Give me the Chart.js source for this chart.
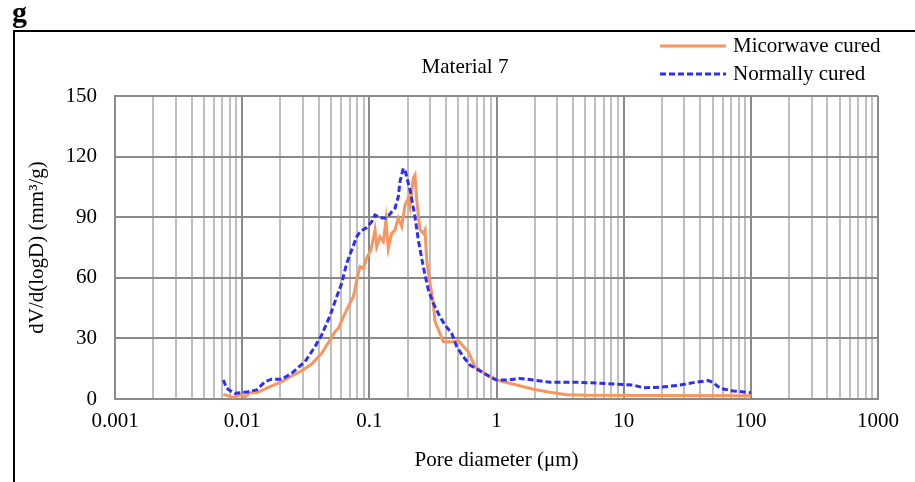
<!DOCTYPE html>
<html>
<head>
<meta charset="utf-8">
<script src="https://cdn.jsdelivr.net/npm/chart.js@4.4.1/dist/chart.umd.min.js"></script>
<style>
  html, body { margin: 0; padding: 0; background: white; }
  #wrap { width: 915px; height: 482px; position: relative; }
</style>
</head>
<body>
<div id="wrap"><canvas id="pore_chart" width="915" height="482"></canvas></div>
<script>

// Pore size distribution - Material 7

var chartTitle = 'Material 7';
var panelLetter = 'g';
var seriesNames = ['Micorwave cured', 'Normally cured'];

// x-axis decades + labels
var xDecades = [0.001, 0.01, 0.1, 1, 10, 100, 1000];
var xTickLabels = ['0.001', '0.01', '0.1', '1', '10', '100', '1000'];

// microwave cured
var microX = [0.00711, 0.00851, 0.00962, 0.01052, 0.01152, 0.01301, 0.01605, 0.02046, 0.02451, 0.02938,
    0.03522, 0.04219, 0.04906, 0.0537, 0.05702, 0.06243, 0.06834, 0.0748, 0.08187, 0.08446,
    0.08961, 0.0953, 0.103, 0.1108, 0.1143, 0.1213, 0.1288, 0.1352, 0.1409, 0.1499,
    0.1591, 0.1689, 0.1796, 0.1907, 0.2025, 0.2088, 0.2216, 0.2286, 0.2357, 0.2502,
    0.2657, 0.274, 0.2825, 0.2999, 0.3184, 0.3284, 0.3816, 0.4573, 0.5006, 0.6001,
    0.6774, 0.8375, 1.003, 1.441, 1.947, 2.634, 3.563, 5.119, 16.1, 92.7, 100];
var microY = [2.3, 0.8, 2.0, 1.1, 3.1, 3.1, 5.8, 8.6, 11.4, 14.0,
    17.3, 22.6, 29.2, 33.3, 35.0, 40.7, 45.7, 50.6, 62.2, 65.5,
    64.7, 69.8, 73.8, 83.7, 75.4, 80.3, 77.9, 88.6, 74.6, 82.0,
    83.7, 89.5, 85.3, 96.0, 99.4, 95.2, 109.3, 110.9, 98.5, 83.7,
    82.0, 83.7, 68.8, 57.3, 47.4, 38.3, 28.4, 28.4, 28.9, 23.4,
    16.0, 11.9, 9.4, 6.9, 4.8, 3.3, 2.1, 1.8, 1.7, 1.6, 1.6];

// normally cured
var normalX = [0.00711, 0.00756, 0.00827, 0.00878, 0.00992, 0.01117, 0.01301, 0.01512, 0.01707, 0.02046,
    0.02451, 0.03119, 0.03738, 0.04219, 0.04906, 0.05537, 0.06062, 0.06637, 0.07266, 0.07955,
    0.08446, 0.0953, 0.1044, 0.1108, 0.1213, 0.1369, 0.1499, 0.1591, 0.1689, 0.1742,
    0.1849, 0.1907, 0.2088, 0.2286, 0.2427, 0.2657, 0.2909, 0.3184, 0.3594, 0.3936,
    0.4443, 0.4864, 0.5481, 0.6188, 0.7191, 0.8888, 1.003, 1.202, 1.53, 1.947,
    2.634, 4.27, 6.51, 8.81, 11.9, 14.3, 19.3, 27.7, 35.3, 46.3,
    50.7, 57.2, 72.8, 100];
var normalY = [9.4, 5.3, 3.6, 2.8, 3.1, 3.6, 4.5, 8.6, 9.8, 9.8,
    12.7, 18.5, 25.9, 31.7, 41.2, 50.6, 57.3, 67.2, 73.8, 80.3,
    82.8, 84.9, 87.8, 91.1, 89.8, 89.5, 92.7, 94.4, 100.1, 107.6,
    114.2, 113.4, 103.5, 90.2, 78.7, 65.5, 54.0, 47.4, 40.7, 36.6,
    32.5, 25.9, 20.9, 16.8, 14.4, 11.0, 9.4, 9.4, 10.2, 9.4,
    8.3, 8.3, 7.8, 7.3, 6.9, 5.6, 5.8, 6.9, 8.1, 9.1,
    8.1, 5.3, 4.0, 3.1];

var colors = ['#F8965F', '#2E2EF5'];
var serif = "'Liberation Serif', 'Times New Roman', serif";


function toPoints(xs, ys) {
    var pts = [];
    for (var i = 0; i < xs.length; i++) {
        pts.push({x: xs[i], y: ys[i]});
    }
    return pts;
}


// frame, panel letter, title and legend drawn on top
var decorPlugin = {
    id: 'decor',
    afterDraw: function(chart) {
        var c = chart.ctx;
        c.save();

        c.strokeStyle = '#000';
        c.lineWidth = 2;
        c.beginPath();
        c.moveTo(14, 482);
        c.lineTo(14, 31);
        c.lineTo(915, 31);
        c.stroke();

        c.fillStyle = '#000';
        c.font = 'bold 30px ' + serif;
        c.textBaseline = 'alphabetic';
        c.textAlign = 'left';
        c.fillText(panelLetter, 12, 22);

        c.font = '21px ' + serif;
        c.textAlign = 'center';
        c.textBaseline = 'middle';
        c.fillText(chartTitle, 465, 67);

        // legend
        var rows = [46, 74];
        c.textAlign = 'left';
        for (var i = 0; i < 2; i++) {
            c.strokeStyle = colors[i];
            c.lineWidth = 3;
            c.setLineDash(i == 1 ? [6, 3] : []);
            c.beginPath();
            c.moveTo(660, rows[i]);
            c.lineTo(726, rows[i]);
            c.stroke();
            c.setLineDash([]);
            c.fillStyle = '#000';
            c.fillText(seriesNames[i], 733, rows[i]);
        }
        c.restore();
    }
};


var ctx = document.getElementById('pore_chart').getContext('2d');

var pore_chart = new Chart(ctx, {
    type: 'line',

    data: {
        datasets: [
            {
                label: seriesNames[0],
                data: toPoints(microX, microY),
                borderColor: colors[0],
                backgroundColor: colors[0],
                borderWidth: 3,
                order: 2,
            },
            {
                label: seriesNames[1],
                data: toPoints(normalX, normalY),
                borderColor: colors[1],
                backgroundColor: colors[1],
                borderWidth: 3,
                borderDash: [6, 3],
                order: 1,
            },
        ],
    },

    options: {
        responsive: false,
        animation: false,
        layout: {
            padding: {left: 20, right: 37, top: 96, bottom: 9},},

        elements: {
            point: { radius: 0,},
            line: { tension: 0,},},

        scales: {
            x: {
                type: 'logarithmic',
                min: 0.001,
                max: 1000,
                afterBuildTicks: function(scale) {
                    var t = [];
                    for (var d = 0; d < xDecades.length; d++) {
                        t.push({value: xDecades[d]});
                        if (d < xDecades.length - 1) {
                            for (var k = 2; k <= 9; k++) {
                                t.push({value: xDecades[d] * k});
                            }
                        }
                    }
                    scale.ticks = t;
                },
                afterFit: function(scale) { scale.height = 74; },
                grid: {
                    drawTicks: false,
                    lineWidth: 2,
                    color: function(c) {
                        return xDecades.indexOf(c.tick.value) >= 0 ? '#8a8a8a' : '#bfbfbf';
                    },
                },
                border: { color: '#8a8a8a', width: 2,},
                ticks: {
                    autoSkip: false,
                    maxRotation: 0,
                    padding: 10,
                    color: '#000',
                    font: { family: serif, size: 21,},
                    callback: function(value) {
                        var i = xDecades.indexOf(value);
                        return i >= 0 ? xTickLabels[i] : '';
                    },
                },
                title: {
                    display: true,
                    text: 'Pore diameter (μm)',
                    color: '#000',
                    padding: 0,
                    font: { family: serif, size: 21,},
                },
            },
            y: {
                min: 0,
                max: 150,
                afterFit: function(scale) { scale.width = 95; },
                grid: {
                    drawTicks: false,
                    lineWidth: 2,
                    color: '#8a8a8a',},
                border: { color: '#8a8a8a', width: 2,},
                ticks: {
                    stepSize: 30,
                    padding: 18,
                    color: '#000',
                    font: { family: serif, size: 21,},
                },
                title: {
                    display: true,
                    text: 'dV/d(logD) (mm³/g)',
                    color: '#000',
                    padding: {top: 5, bottom: 0},
                    font: { family: serif, size: 21,},
                },
            },
        },

        plugins: {
            legend: { display: false,},
            tooltip: { enabled: false,},
        },
    },

    plugins: [decorPlugin],
});

</script>
</body>
</html>
